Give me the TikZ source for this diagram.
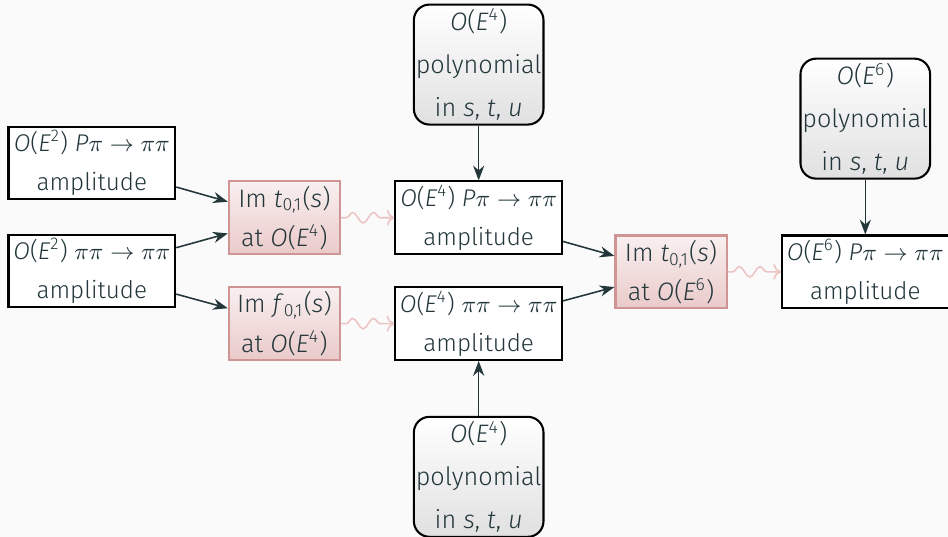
\documentclass[tikz,border=0pt]{standalone}
\usepackage{fontspec}
\setmainfont{Fira Sans Light}
\usetikzlibrary{arrows.meta, positioning, decorations.pathmorphing}
\definecolor{mdarkteal}{HTML}{23373B}
\definecolor{slidebg}{HTML}{FAFAFA}
\definecolor{imborder}{HTML}{CF9494}
\definecolor{imtop}{HTML}{F9EFEF}
\definecolor{imbottom}{HTML}{EACACA}
\definecolor{wavepink}{HTML}{EDC4C4}
\newcommand{\ordE}[1]{\textit{O}(\textit{E}\textsuperscript{#1})}
\tikzset{
  amp/.style={rectangle, draw=black, thick, fill=white, text=mdarkteal,
              minimum width=2.25cm, minimum height=0.98cm, inner sep=0.5pt,
              align=center, font=\fontsize{9.3}{15}\selectfont},
  imbox/.style={rectangle, draw=imborder, thick, top color=imtop,
                bottom color=imbottom, text=mdarkteal, minimum width=1.5cm,
                minimum height=0.98cm, inner sep=0.5pt, align=center,
                font=\fontsize{9.7}{15}\selectfont},
  poly/.style={rectangle, rounded corners=6pt, draw=black, thick,
               top color=white, bottom color=black!12, text=mdarkteal,
               minimum width=1.75cm, minimum height=1.62cm, inner sep=0.5pt,
               align=center, font=\fontsize{9.7}{16.5}\selectfont},
  flow/.style={-Stealth, color=mdarkteal, semithick},
  feed/.style={-To, wavepink, semithick, decorate,
               decoration={snake, amplitude=2pt, segment length=8pt,
                           pre length=2pt, post length=4pt}}
}

\begin{document}
\begin{tikzpicture}[node distance=0.74cm and 0.72cm]
  \fill[slidebg] (0,0) rectangle (12.8,-7.25);
  \useasboundingbox (0,0) rectangle (12.8,-7.25);

  % O(E^2) input amplitudes
  \node[amp] (pipi2) at (1.24,-3.66) {\ordE{2} $\pi\pi\to\pi\pi$\\amplitude};
  \node[amp, above=0.45cm of pipi2] (Ppi2) {\ordE{2} \textit{P}$\pi\to\pi\pi$\\amplitude};

  % imaginary parts at O(E^4)
  \node[imbox] (imt4) at (3.84,-2.94) {Im \textit{t}\textsubscript{0,1}(\textit{s})\\at \ordE{4}};
  \node[imbox] (imf4) at (3.84,-4.37) {Im \textit{f}\textsubscript{0,1}(\textit{s})\\at \ordE{4}};

  % O(E^4) amplitudes
  \node[amp, right=of imt4] (Ppi4)  {\ordE{4} \textit{P}$\pi\to\pi\pi$\\amplitude};
  \node[amp, right=of imf4] (pipi4) {\ordE{4} $\pi\pi\to\pi\pi$\\amplitude};
  \node[poly, above=of Ppi4]  (polyP4)  {\ordE{4}\\polynomial\\in \textit{s}, \textit{t}, \textit{u}};
  \node[poly, below=of pipi4] (polypi4) {\ordE{4}\\polynomial\\in \textit{s}, \textit{t}, \textit{u}};

  % O(E^6)
  \node[imbox] (imt6) at (9.06,-3.67) {Im \textit{t}\textsubscript{0,1}(\textit{s})\\at \ordE{6}};
  \node[amp, right=of imt6] (Ppi6) {\ordE{6} \textit{P}$\pi\to\pi\pi$\\amplitude};
  \node[poly, above=of Ppi6] (polyP6) {\ordE{6}\\polynomial\\in \textit{s}, \textit{t}, \textit{u}};

  \draw[flow] (Ppi2)  -- (imt4);
  \draw[flow] (pipi2) -- (imt4);
  \draw[flow] (pipi2) -- (imf4);
  \draw[feed] (imt4)  -- (Ppi4);
  \draw[feed] (imf4)  -- (pipi4);
  \draw[flow] (polyP4)  -- (Ppi4);
  \draw[flow] (polypi4) -- (pipi4);
  \draw[flow] (Ppi4)  -- (imt6);
  \draw[flow] (pipi4) -- (imt6);
  \draw[feed] (imt6)  -- (Ppi6);
  \draw[flow] (polyP6) -- (Ppi6);
\end{tikzpicture}
\end{document}
